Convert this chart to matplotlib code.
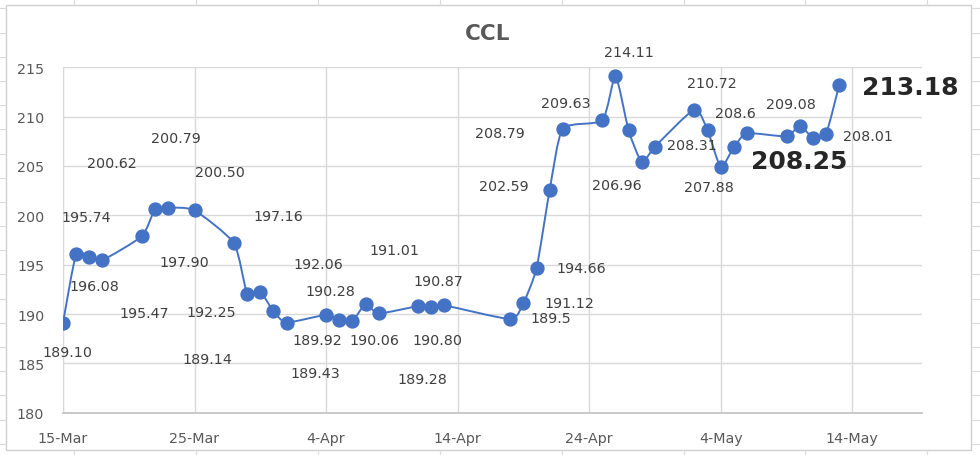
import datetime as dt
import numpy as np
import matplotlib
matplotlib.use("Agg")
import matplotlib.pyplot as plt
import matplotlib.dates as mdates
from matplotlib.lines import Line2D
from matplotlib.patches import Rectangle, PathPatch
from matplotlib.path import Path

# ---------------- data ----------------
dates = ["2022-03-15", "2022-03-16", "2022-03-17", "2022-03-18", "2022-03-21",
         "2022-03-22", "2022-03-23", "2022-03-25", "2022-03-28", "2022-03-29",
         "2022-03-30", "2022-03-31", "2022-04-01", "2022-04-04", "2022-04-05",
         "2022-04-06", "2022-04-07", "2022-04-08", "2022-04-11", "2022-04-12",
         "2022-04-13", "2022-04-18", "2022-04-19", "2022-04-20", "2022-04-21",
         "2022-04-22", "2022-04-25", "2022-04-26", "2022-04-27", "2022-04-28",
         "2022-04-29", "2022-05-02", "2022-05-03", "2022-05-04", "2022-05-05",
         "2022-05-06", "2022-05-09", "2022-05-10", "2022-05-11", "2022-05-12",
         "2022-05-13"]
ccl = [189.10, 196.08, 195.74, 195.47, 197.90,
       200.62, 200.79, 200.50, 197.16, 192.06,
       192.25, 190.28, 189.14, 189.92, 189.43,
       189.28, 191.01, 190.06, 190.80, 190.72,
       190.87, 189.50, 191.12, 194.66, 202.59,
       208.79, 209.63, 214.11, 208.60, 205.40,
       206.96, 210.72, 208.60, 204.90, 206.90,
       208.31, 208.01, 209.08, 207.88, 208.25,
       213.18]

title = "CCL"
x_tick_dates = ["2022-03-15", "2022-03-25", "2022-04-04", "2022-04-14",
                "2022-04-24", "2022-05-04", "2022-05-14"]
y_ticks = [180, 185, 190, 195, 200, 205, 210, 215]

# data-label texts (as shown in the chart)
label_texts = ["189.10", "196.08", "195.74", "200.62", "200.79", "200.50",
               "197.16", "195.47", "197.90", "192.25", "189.14", "192.06",
               "190.28", "189.92", "189.43", "191.01", "190.06", "190.87",
               "190.80", "189.28", "202.59", "208.79", "209.63", "214.11",
               "206.96", "194.66", "191.12", "189.5", "208.31", "207.88",
               "210.72", "208.6", "208.25", "209.08", "208.01", "213.18"]
big_labels = {"208.25", "213.18"}

# ---------------- layout (label placement: days after 15-Mar, y) ----------------
label_pos = [(0.3, 186.15), (2.4, 192.87), (1.8, 199.83), (3.7, 205.3),
             (8.6, 207.8), (11.9, 204.36), (16.4, 199.96), (6.2, 190.07),
             (9.2, 195.3), (11.25, 190.17), (11.0, 185.44), (19.4, 195.07),
             (20.3, 192.36), (19.3, 187.37), (19.2, 183.99), (25.2, 196.5),
             (23.7, 187.37), (28.5, 193.37), (28.5, 187.37), (27.3, 183.4),
             (33.5, 203.0), (33.2, 208.34), (38.25, 211.38), (43.0, 216.5),
             (42.1, 203.07), (39.4, 194.63), (38.5, 191.1), (37.1, 189.56),
             (47.8, 207.1), (49.1, 202.84), (49.3, 213.4), (51.1, 210.4),
             (56.0, 205.5), (55.3, 211.3), (61.2, 208.0), (64.4, 213.0)]

W, H = 980, 456
fig = plt.figure(figsize=(W / 100, H / 100), dpi=100)
fig.patch.set_facecolor("white")

# spreadsheet background lines outside chart area
sheet_c = "#DADADA"
cx0, cy0, cx1, cy1 = 6, 6, 971, 451
y = 9.3
while y < H:
    fig.add_artist(Line2D([0, cx0 / W], [1 - y / H] * 2, color=sheet_c, lw=0.8))
    fig.add_artist(Line2D([cx1 / W, 1], [1 - y / H] * 2, color=sheet_c, lw=0.8))
    y += 24.2
x = 74
while x < W:
    fig.add_artist(Line2D([x / W] * 2, [1, 1 - cy0 / H], color=sheet_c, lw=0.8))
    fig.add_artist(Line2D([x / W] * 2, [1 - cy1 / H, 0], color=sheet_c, lw=0.8))
    x += 121.9
fig.add_artist(Rectangle((cx0 / W, 1 - cy1 / H), (cx1 - cx0) / W, (cy1 - cy0) / H,
                         transform=fig.transFigure, fill=False,
                         edgecolor="#D0D0D0", lw=1.0))

ax_l, ax_r, ax_t, ax_b = 63, 922, 68.3, 413.7
ax = fig.add_axes([ax_l / W, 1 - ax_b / H, (ax_r - ax_l) / W, (ax_b - ax_t) / H])

d = [dt.datetime.strptime(s, "%Y-%m-%d") for s in dates]
start = dt.datetime(2022, 3, 15)
blue = "#4472C4"

# smoothed line (mild Bezier smoothing through the data points)
xn = mdates.date2num(d)
yn = np.array(ccl)
P = np.column_stack([xn, yn])
n = len(P)
k = 10.0
verts = [P[0]]
codes = [Path.MOVETO]
for i in range(n - 1):
    p0 = P[i - 1] if i > 0 else P[i]
    p1, p2 = P[i], P[i + 1]
    p3 = P[i + 2] if i + 2 < n else P[i + 1]
    c1 = p1 + (p2 - p0) / k
    c2 = p2 - (p3 - p1) / k
    verts += [c1, c2, p2]
    codes += [Path.CURVE4] * 3
ax.add_patch(PathPatch(Path(verts, codes), facecolor="none", edgecolor=blue,
                       lw=1.4, zorder=3))
ax.plot(d, ccl, linestyle="none", marker="o", markersize=9.3,
        markerfacecolor=blue, markeredgecolor=blue, zorder=4)

ax.set_xlim(mdates.date2num(start), mdates.date2num(start) + 65.3)
ax.set_ylim(180, 215)
ax.set_yticks(y_ticks)
xt = [dt.datetime.strptime(s, "%Y-%m-%d") for s in x_tick_dates]
ax.set_xticks(xt)
ax.set_xticklabels([f"{t.day}-{t.strftime('%b')}" for t in xt])

tick_c = "#595959"
ax.tick_params(axis="both", length=0, labelsize=10.3, labelcolor=tick_c)
ax.tick_params(axis="x", pad=13.5)
ax.tick_params(axis="y", pad=13.5)
ax.grid(True, color="#D9D9D9", lw=1.0)
ax.set_axisbelow(True)
for s in ["top", "right"]:
    ax.spines[s].set_visible(False)
ax.spines["left"].set_color("#D9D9D9")
ax.spines["bottom"].set_color("#BFBFBF")
ax.spines["bottom"].set_linewidth(1.2)

for txt, (dx, yy) in zip(label_texts, label_pos):
    xx = mdates.date2num(start) + dx
    if txt in big_labels:
        ax.text(xx, yy, txt, ha="center", va="center", fontsize=18,
                fontweight="bold", color="#262626", clip_on=False)
    else:
        ax.text(xx, yy, txt, ha="center", va="center", fontsize=10.3,
                color="#404040", clip_on=False)

fig.text(488 / W, 1 - 34 / H, title, ha="center", va="center",
         fontsize=15.5, fontweight="bold", color="#595959")

fig.savefig("out.png", dpi=100)
